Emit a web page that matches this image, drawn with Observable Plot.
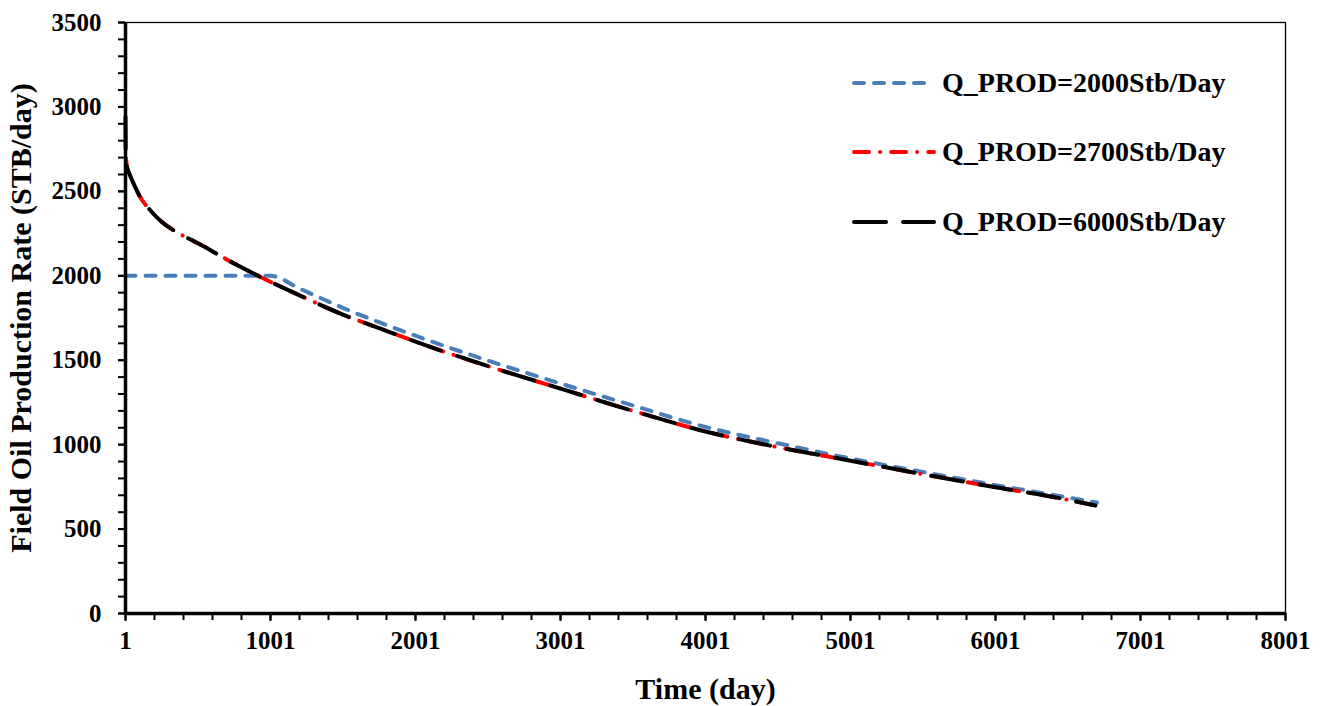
<!DOCTYPE html>
<html>
<head>
<meta charset="utf-8">
<script src="https://cdn.jsdelivr.net/npm/d3@7"></script>
<script src="https://cdn.jsdelivr.net/npm/@observablehq/plot@0.6"></script>
<style>
  body { margin: 0; background: #fff; }
  #wrap { position: relative; width: 1326px; height: 706px; font-family: "Liberation Serif", "Times New Roman", serif; }
  #legend { position: absolute; left: 850px; top: 48px; }
  .row { display: flex; align-items: center; height: 69.5px; }
  .row span { font-size: 28px; font-weight: bold; margin-left: 6px; color: #000; }
</style>
</head>
<body>
<div id="wrap"></div>
<script>
// ---- data ----
const seriesNames = ["Q_PROD=2000Stb/Day", "Q_PROD=2700Stb/Day", "Q_PROD=6000Stb/Day"];

const time2000 = [1, 1001, 1200, 1500, 1750, 2001, 2500, 3001, 3500, 4001, 4500, 5001, 5500, 6001, 6400, 6700];
const rate2000 = [2000, 2000, 1925, 1810, 1725, 1645, 1498, 1362, 1232, 1105, 1008, 918, 838, 760, 702, 657];

const time2700 = [1, 5, 10, 30, 60, 100, 170, 250, 350, 450, 550, 650, 800, 950, 1200, 1500, 1750, 2001, 2500, 3001, 3500, 4001, 4500, 5001, 5500, 6001, 6400, 6690];
const rate2700 = [2700, 2690, 2650, 2600, 2540, 2470, 2390, 2320, 2260, 2215, 2170, 2120, 2050, 1985, 1885, 1770, 1690, 1610, 1465, 1332, 1200, 1078, 985, 905, 825, 748, 690, 640];

const time6000 = [1, 3, 10, 30, 60, 100, 170, 250, 350, 450, 550, 650, 800, 950, 1200, 1500, 1750, 2001, 2500, 3001, 3500, 4001, 4500, 5001, 5500, 6001, 6400, 6690];
const rate6000 = [2940, 2700, 2650, 2600, 2540, 2470, 2390, 2320, 2260, 2215, 2170, 2120, 2050, 1985, 1885, 1770, 1690, 1610, 1465, 1332, 1200, 1078, 985, 905, 825, 748, 690, 640];

const xMajorTicks = [1, 1001, 2001, 3001, 4001, 5001, 6001, 7001, 8001];
const xMinorTicks = d3.range(1, 8002, 200);
const yMajorTicks = [0, 500, 1000, 1500, 2000, 2500, 3000, 3500];
const yMinorTicks = d3.range(0, 3501, 100);

// ---- styles ----
const styles = [
  {stroke: "#4a7ebb", dash: "10,10"},
  {stroke: "#ff0000", dash: "15,11,0.1,11"},
  {stroke: "#000000", dash: "32,17"}
];

const toRows = (t, r, name) => t.map((d, i) => ({time: d, rate: r[i], name}));
const sets = [
  toRows(time2000, rate2000, seriesNames[0]),
  toRows(time2700, rate2700, seriesNames[1]),
  toRows(time6000, rate6000, seriesNames[2])
];

const font = "Liberation Serif, Times New Roman, serif";

const chart = Plot.plot({
  width: 1326,
  height: 706,
  marginLeft: 125,
  marginRight: 41,
  marginTop: 22,
  marginBottom: 93,
  style: {fontFamily: font, fontWeight: "bold", color: "#000", background: "#fff"},
  x: {domain: [1, 8001]},
  y: {domain: [0, 3500]},
  marks: [
    Plot.frame({stroke: "#000", strokeWidth: 1.3}),
    Plot.axisX({ticks: xMinorTicks, tickSize: 7, tickFormat: null, text: null, strokeWidth: 2, label: null}),
    Plot.axisX({ticks: xMajorTicks, tickSize: 8, tickPadding: 10, tickFormat: d => String(d), fontSize: 25, strokeWidth: 2,
      label: "Time (day)", labelAnchor: "center", labelArrow: "none", labelOffset: 85}),
    Plot.axisY({ticks: yMinorTicks, tickSize: 7, text: null, strokeWidth: 2, label: null}),
    Plot.axisY({ticks: yMajorTicks, tickSize: 7, tickPadding: 17, tickFormat: d => String(d), fontSize: 25, strokeWidth: 2,
      label: "Field Oil Production Rate (STB/day)", labelAnchor: "center", labelArrow: "none", labelOffset: 116}),
    ...sets.map((s, i) => Plot.line(s, {
      x: "time", y: "rate", curve: "monotone-x",
      stroke: styles[i].stroke, strokeWidth: 4, strokeDasharray: styles[i].dash, strokeLinecap: "round"
    })),
    Plot.ruleY([0], {stroke: "#000", strokeWidth: 3.5}),
    Plot.ruleX([1], {stroke: "#000", strokeWidth: 3.5})
  ]
});

const wrap = document.getElementById("wrap");
wrap.appendChild(chart);
chart.querySelectorAll("g[aria-label='x-axis label'] text, g[aria-label='y-axis label'] text").forEach(t => {
  t.setAttribute("font-size", "30");
});

// ---- legend ----
const legend = document.createElement("div");
legend.id = "legend";
seriesNames.forEach((name, i) => {
  const row = document.createElement("div");
  row.className = "row";
  const svg = d3.create("svg").attr("width", 86).attr("height", 10);
  svg.append("line").attr("x1", 4).attr("x2", 84).attr("y1", 5).attr("y2", 5)
    .attr("stroke", styles[i].stroke).attr("stroke-width", 4)
    .attr("stroke-dasharray", styles[i].dash).attr("stroke-linecap", "round");
  row.appendChild(svg.node());
  const sp = document.createElement("span");
  sp.textContent = name;
  row.appendChild(sp);
  legend.appendChild(row);
});
wrap.appendChild(legend);
</script>
</body>
</html>
